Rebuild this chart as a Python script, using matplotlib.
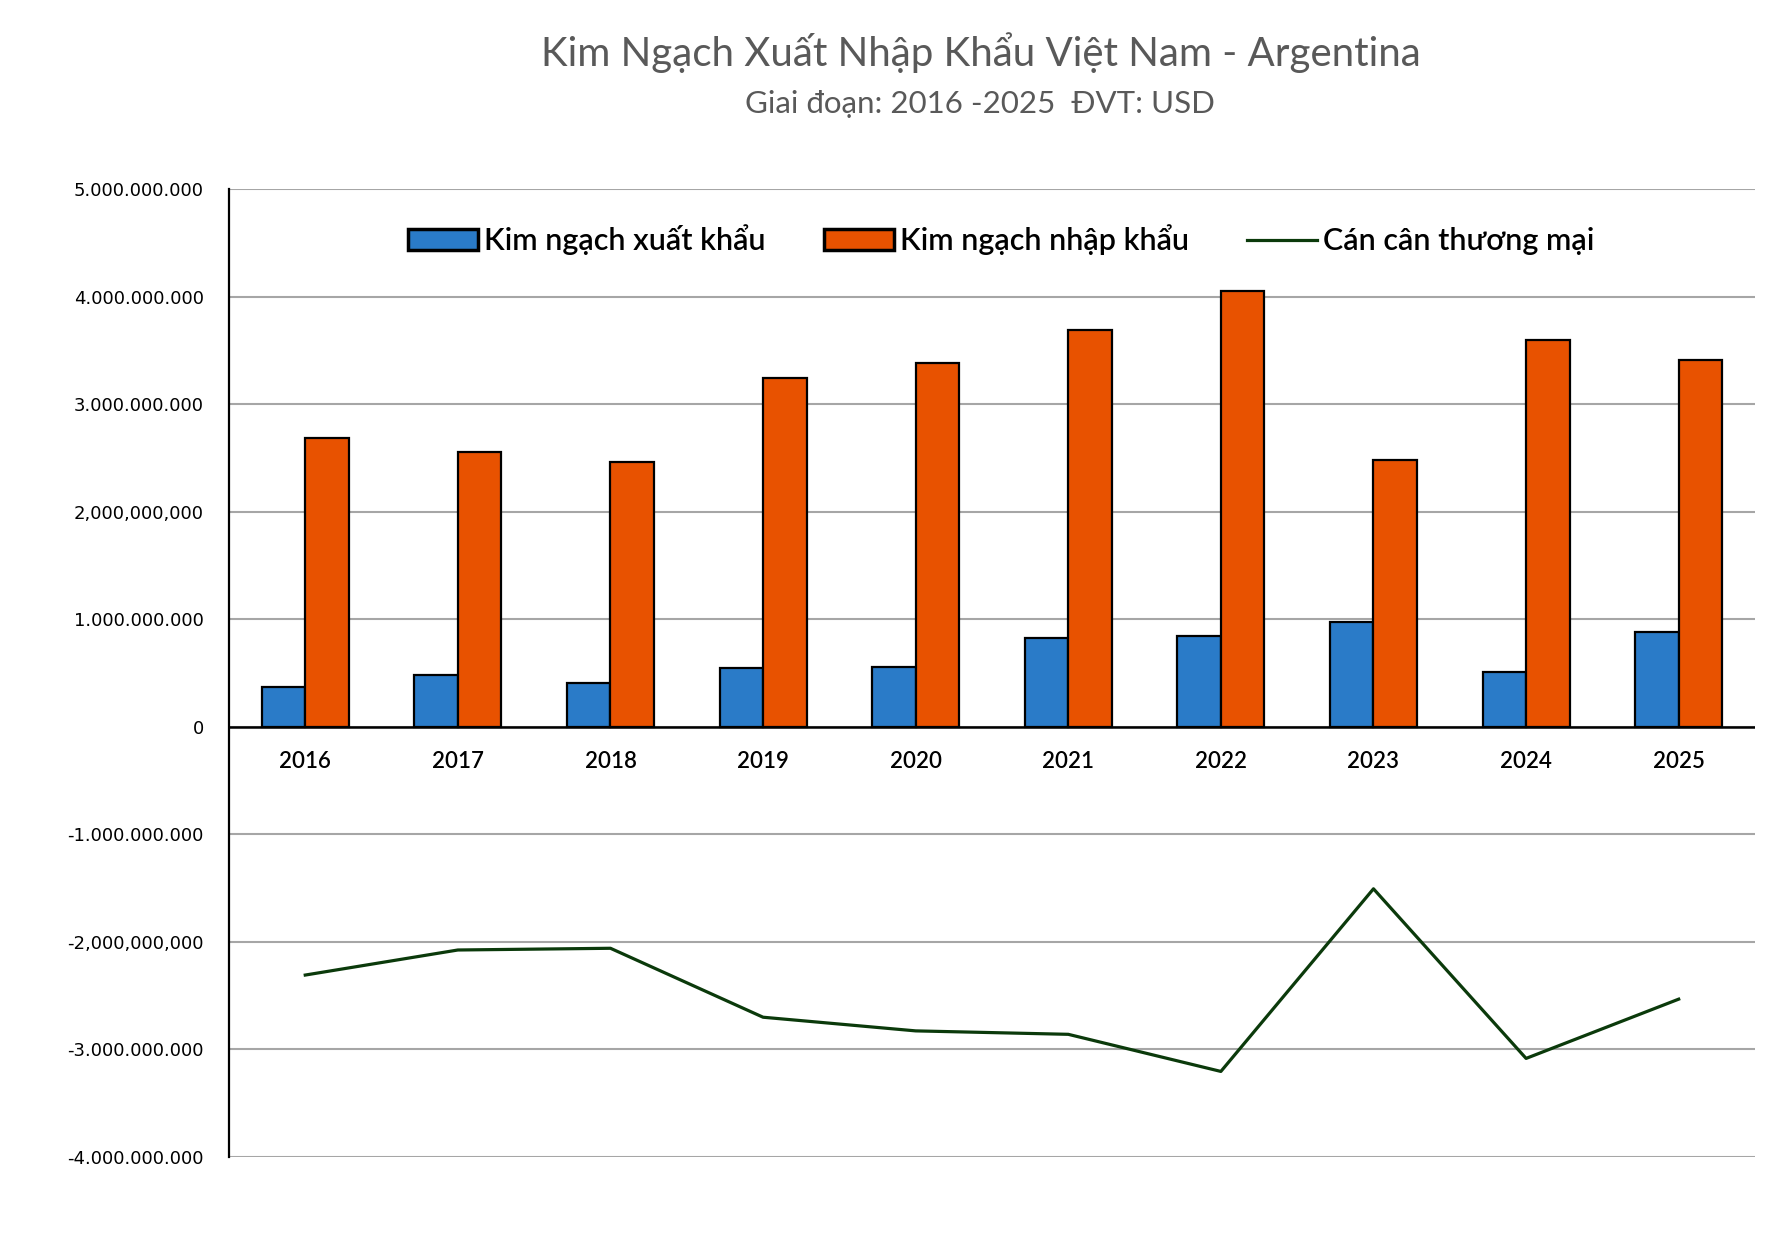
import matplotlib
matplotlib.use("Agg")
from matplotlib import pyplot as plt
import numpy as np

# du lieu doc tu hinh
years = ["2016", "2017", "2018", "2019", "2020", "2021", "2022", "2023", "2024", "2025"]
xuat_khau = [373e6, 482e6, 404e6, 547e6, 560e6, 830e6, 846e6, 970e6, 513e6, 877e6]
nhap_khau = [2681e6, 2557e6, 2463e6, 3247e6, 3387e6, 3689e6, 4050e6, 2476e6, 3596e6, 3409e6]
can_can = [-2308e6, -2075e6, -2059e6, -2700e6, -2827e6, -2859e6, -3204e6, -1506e6, -3083e6, -2532e6]

y_ticks = [5e9, 4e9, 3e9, 2e9, 1e9, 0, -1e9, -2e9, -3e9, -4e9]
y_labels = ["5.000.000.000", "4.000.000.000", "3.000.000.000", "2,000,000,000",
            "1.000.000.000", "0", "-1.000.000.000", "-2,000,000,000",
            "-3.000.000.000", "-4.000.000.000"]

xanh = "#2A7BC8"
cam = "#E85200"
luc = "#0B3A0B"

fig = plt.figure(figsize=(17.72, 12.33), dpi=100)
ax = fig.add_axes([0.1292, 0.0616, 0.8612, 0.7851])

x = np.arange(len(years))
w = 0.285
b1 = ax.bar(x - w / 2, xuat_khau, w, color=xanh, edgecolor="black", linewidth=1.6,
            label="Kim ngạch xuất khẩu", zorder=3)
b2 = ax.bar(x + w / 2, nhap_khau, w, color=cam, edgecolor="black", linewidth=1.6,
            label="Kim ngạch nhập khẩu", zorder=3)
l1, = ax.plot(x, can_can, color=luc, linewidth=2.3, label="Cán cân thương mại", zorder=4)

ax.set_xlim(-0.5, len(years) - 0.5)
ax.set_ylim(-4e9, 5e9)
ax.set_yticks(y_ticks)
ax.set_yticklabels(y_labels, fontsize=13, family="DejaVu Sans", color="black")
ax.tick_params(axis="y", length=0, pad=18)
ax.set_xticks([])
ax.yaxis.grid(True, color="#A6A6A6", linewidth=1.5, zorder=0)
ax.set_axisbelow(True)
for s in ["top", "right", "bottom"]:
    ax.spines[s].set_visible(False)
ax.spines["left"].set_linewidth(1.6)
ax.axhline(0, color="black", linewidth=1.8, zorder=5)

for i, yr in enumerate(years):
    ax.annotate(yr, (i, 0), xytext=(0, -25), textcoords="offset points",
                ha="center", va="center", fontsize=16, family="Lato",
                weight="semibold", color="black")

fig.text(0.5536, 1 - 53 / 1233, "Kim Ngạch Xuất Nhập Khẩu Việt Nam - Argentina",
         ha="center", va="center", fontsize=29, family="Lato", color="#595959")
fig.text(0.553, 1 - 104 / 1233, "Giai đoạn: 2016 -2025  ĐVT: USD",
         ha="center", va="center", fontsize=22.5, family="Lato", color="#595959")

leg = ax.legend([b1, b2, l1], ["Kim ngạch xuất khẩu", "Kim ngạch nhập khẩu", "Cán cân thương mại"],
                loc="center", bbox_to_anchor=(0.565, 1 - 240 / 1233), bbox_transform=fig.transFigure,
                ncol=3, frameon=False, prop={"family": "Lato", "size": 22, "weight": "semibold"},
                handlelength=2.3, handleheight=0.7, handletextpad=0.2, columnspacing=1.9)
for h in leg.legend_handles[:2]:
    h.set_linewidth(2.5)

fig.savefig("out.png", dpi=100, facecolor="white")
